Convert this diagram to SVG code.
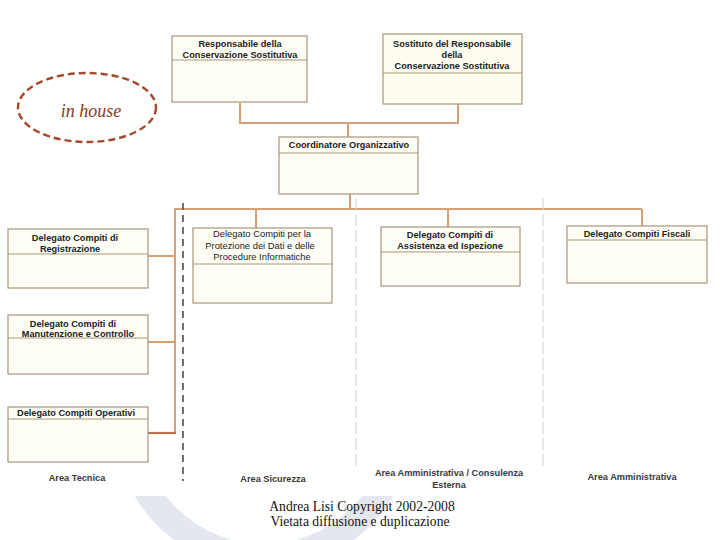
<svg xmlns="http://www.w3.org/2000/svg" width="720" height="540" viewBox="0 0 720 540">
<defs>
<style>
.box{fill:#fffef6;stroke:#a8967a;stroke-width:1.2}
.div{stroke:#a8967a;stroke-width:1}
.t{font-family:"Liberation Sans",Arial,sans-serif;font-size:9.2px;font-weight:bold;fill:#222;text-anchor:middle}
.tn{font-family:"Liberation Sans",Arial,sans-serif;font-size:9.4px;fill:#222;text-anchor:middle}
.area{font-family:"Liberation Sans",Arial,sans-serif;font-size:9.2px;font-weight:bold;fill:#3a3a3a;text-anchor:middle}
.conn{fill:none;stroke:#d4a074;stroke-width:2}
.foot{font-family:"Liberation Serif","Times New Roman",serif;font-size:13.6px;fill:#111;text-anchor:middle}
</style>
<clipPath id="bottom"><rect x="0" y="496" width="720" height="44"/></clipPath>
</defs>
<rect width="720" height="540" fill="#ffffff"/>
<g id="watermark" clip-path="url(#bottom)">
<circle cx="264" cy="420" r="137" fill="none" stroke="#e4e8ee" stroke-width="26"/>
</g>
<g id="connectors">
<polyline class="conn" points="240,103 240,123 458,123 458,104"/>
<line class="conn" x1="348" y1="123" x2="348" y2="137"/>
<line class="conn" x1="350" y1="194" x2="350" y2="209"/>
<polyline class="conn" points="175,433 175,209 642,209"/>
<line class="conn" x1="256" y1="209" x2="256" y2="228"/>
<line class="conn" x1="448" y1="209" x2="448" y2="227"/>
<line class="conn" x1="642" y1="209" x2="642" y2="226"/>
<line class="conn" x1="148" y1="256" x2="175" y2="256"/>
<line class="conn" x1="148" y1="342" x2="175" y2="342"/>
<line x1="148" y1="433" x2="176" y2="433" stroke="#b8714a" stroke-width="2.2"/>
<line x1="183" y1="203" x2="183" y2="481" stroke="#606060" stroke-width="1.8" stroke-dasharray="7,5"/>
<line x1="356" y1="198" x2="356" y2="470" stroke="#cfcfcf" stroke-width="1" stroke-dasharray="12,4"/>
<line x1="543" y1="198" x2="543" y2="470" stroke="#cfcfcf" stroke-width="1" stroke-dasharray="12,4"/>
</g>
<g id="inhouse">
<ellipse cx="87" cy="107.5" rx="69" ry="34.5" fill="none" stroke="#a4492a" stroke-width="2.4" stroke-dasharray="7,4"/>
<text x="91" y="117" font-family="'Liberation Serif','Times New Roman',serif" font-style="italic" font-size="18" fill="#8b3a22" text-anchor="middle">in house</text>
</g>
<g id="responsabile">
<rect class="box" x="172" y="36" width="135" height="66"/>
<line class="div" x1="172" y1="60" x2="307" y2="60"/>
<text class="t" x="240" y="47">Responsabile della</text>
<text class="t" x="240" y="58">Conservazione Sostitutiva</text>
</g>
<g id="sostituto">
<rect class="box" x="383" y="34" width="139" height="70" style="fill:#fffdf0"/>
<line class="div" x1="383" y1="73" x2="522" y2="73"/>
<text class="t" x="452" y="47">Sostituto del Responsabile</text>
<text class="t" x="452" y="58">della</text>
<text class="t" x="452" y="69">Conservazione Sostitutiva</text>
</g>
<g id="coordinatore">
<rect class="box" x="279" y="137" width="139" height="57"/>
<line class="div" x1="279" y1="153" x2="418" y2="153"/>
<text class="t" x="349" y="148">Coordinatore Organizzativo</text>
</g>
<g id="registrazione">
<rect class="box" x="8" y="229" width="140" height="59"/>
<line class="div" x1="8" y1="254" x2="148" y2="254"/>
<text class="t" x="75" y="241">Delegato Compiti di</text>
<text class="t" x="70" y="252">Registrazione</text>
</g>
<g id="manutenzione">
<rect class="box" x="8" y="315" width="140" height="59"/>
<line class="div" x1="8" y1="338" x2="148" y2="338"/>
<text class="t" x="73" y="327">Delegato Compiti di</text>
<text class="t" x="78" y="337">Manutenzione e Controllo</text>
</g>
<g id="operativi">
<rect class="box" x="8" y="407" width="140" height="55"/>
<line class="div" x1="8" y1="419" x2="148" y2="419"/>
<text class="t" x="76" y="416">Delegato Compiti Operativi</text>
</g>
<g id="protezione">
<rect class="box" x="193" y="228" width="139" height="75"/>
<line class="div" x1="193" y1="264" x2="332" y2="264"/>
<text class="tn" x="262" y="237">Delegato Compiti per la</text>
<text class="tn" x="260" y="249">Protezione dei Dati e delle</text>
<text class="tn" x="262" y="260">Procedure Informatiche</text>
</g>
<g id="assistenza">
<rect class="box" x="381" y="227" width="139" height="59"/>
<line class="div" x1="381" y1="252" x2="520" y2="252"/>
<text class="t" x="450" y="238">Delegato Compiti di</text>
<text class="t" x="450" y="249">Assistenza ed Ispezione</text>
</g>
<g id="fiscali">
<rect class="box" x="567" y="226" width="140" height="57"/>
<line class="div" x1="567" y1="240" x2="707" y2="240"/>
<text class="t" x="637" y="237">Delegato Compiti Fiscali</text>
</g>
<g id="areas">
<text class="area" x="77" y="481">Area Tecnica</text>
<text class="area" x="273" y="482">Area Sicurezza</text>
<text class="area" x="449" y="476">Area Amministrativa / Consulenza</text>
<text class="area" x="449" y="488">Esterna</text>
<text class="area" x="632" y="480">Area Amministrativa</text>
</g>
<g id="footer">
<text class="foot" x="362" y="511">Andrea Lisi Copyright 2002-2008</text>
<text class="foot" x="360" y="526">Vietata diffusione e duplicazione</text>
</g>
</svg>
